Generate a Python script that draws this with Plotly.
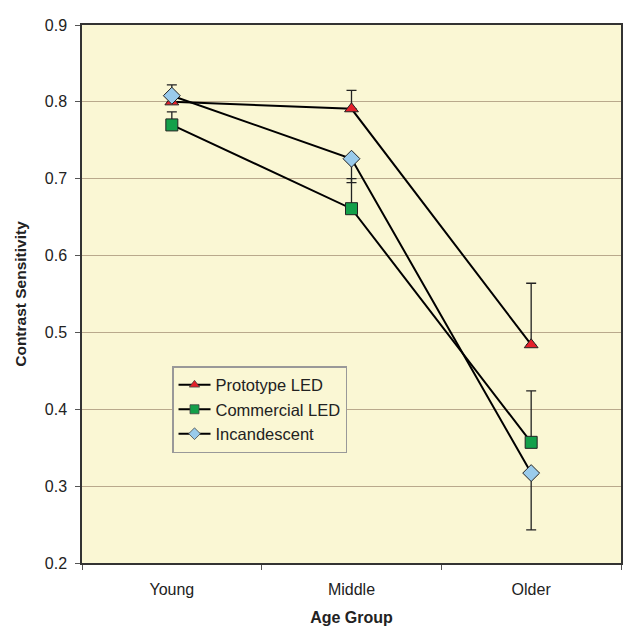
import plotly.graph_objects as go

groups = ["Young", "Middle", "Older"]
proto = [0.800, 0.791, 0.484]
proto_plus = [0.0, 0.024, 0.080]
proto_minus = [0.0, 0.0, 0.0]
comm = [0.770, 0.661, 0.357]
comm_plus = [0.017, 0.039, 0.067]
comm_minus = [0.0, 0.0, 0.0]
incan = [0.808, 0.726, 0.317]
incan_plus = [0.014, 0.0, 0.0]
incan_minus = [0.0, 0.031, 0.074]

series = [
    ("Prototype LED", proto, proto_plus, proto_minus, "triangle-up", "#E5202A", 12),
    ("Commercial LED", comm, comm_plus, comm_minus, "square", "#13A04A", 12),
    ("Incandescent", incan, incan_plus, incan_minus, "diamond", "#9ACBEB", 13),
]

fig = go.Figure()
for name, vals, ep, em, sym, col, sz in series:
    fig.add_trace(go.Scatter(
        x=groups, y=vals, name=name, mode="lines+markers", showlegend=False,
        line=dict(color="black", width=2),
        marker=dict(symbol=sym, color=col, size=sz, line=dict(color="#222", width=1)),
        error_y=dict(type="data", symmetric=False, array=ep, arrayminus=em,
                     color="#222", thickness=1.3, width=5),
    ))
for name, vals, ep, em, sym, col, sz in series:
    fig.add_trace(go.Scatter(
        x=[None], y=[None], name=name, mode="lines+markers",
        line=dict(color="black", width=2),
        marker=dict(symbol=sym, color=col, size=9, line=dict(color="#444", width=0.8)),
    ))

fig.update_layout(
    width=631, height=630,
    margin=dict(l=74, r=18, t=9, b=75),
    paper_bgcolor="white", plot_bgcolor="#FAF7D4",
    font=dict(family="Liberation Sans, Arial, sans-serif", size=16, color="#222"),
    showlegend=True,
    legend=dict(x=0.167, y=0.366, xanchor="left", yanchor="top",
                bgcolor="#FAF7D4", bordercolor="#999", borderwidth=1.5,
                font=dict(size=16.5), tracegroupgap=0, itemwidth=32),
)
fig.update_xaxes(
    title=dict(text="<b>Age Group</b>", font=dict(size=16), standoff=15),
    showline=True, linecolor="#333", linewidth=1.5, mirror=True,
    ticks="outside", ticklen=5, tickcolor="#555", tickson="boundaries",
    ticklabelstandoff=11,
    showgrid=False, range=[-0.5, 2.5],
)
fig.update_yaxes(
    title=dict(text="<b>Contrast Sensitivity</b>", font=dict(size=15.5), standoff=14),
    range=[0.2, 0.9], dtick=0.1, tickformat=".1f",
    showline=True, linecolor="#333", linewidth=1.5, mirror=True,
    ticks="outside", ticklen=5, tickcolor="#555", ticklabelstandoff=5,
    showgrid=True, gridcolor="#B9A98C", gridwidth=1, zeroline=False,
)

fig.write_html("out.html")
